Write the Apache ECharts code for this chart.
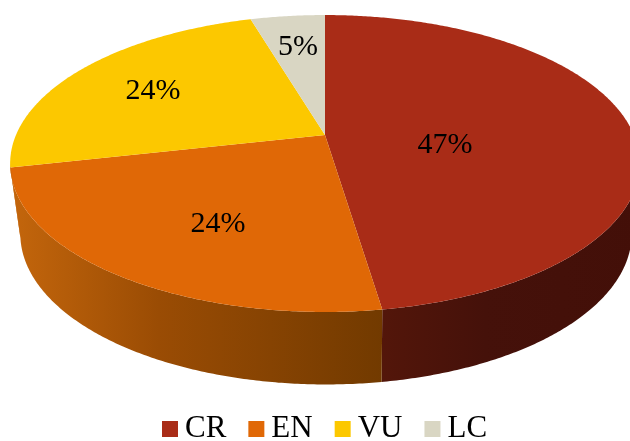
<!DOCTYPE html>
<html>
<head>
<meta charset="utf-8">
<style>
html, body { margin: 0; padding: 0; background: #fff; }
#main { width: 630px; height: 441px; }
</style>
<script src="https://cdn.jsdelivr.net/npm/echarts@6/dist/echarts.min.js"></script>
</head>
<body>
<div id="main"></div>
<script>
// values (the printed labels are rounded differently)
const categories = ["CR", "EN", "VU", "LC"]
const values = [47.6, 23.9, 23.9, 4.6]
const percentLabels = ["47%", "24%", "24%", "5%"]

// colours
const topColors = ["#a92c17", "#e06806", "#fcc800", "#d9d6c3"]
const wallStops = [
	["#53160a", "#45110a", "#430f08"],
	["#c4660c", "#9a4c04", "#723a00"],
	["#c4660c", "#c4660c", "#c4660c"],
	["#8a8778", "#8a8778", "#8a8778"]
]

const fontFamily = '"Liberation Serif", "Times New Roman", serif'
// label centres, Excel places them by its own rules so no formula here
const labelAnchors = [[445, 145], [218, 224], [153, 91], [298, 47]]

// perspective of the disc: p is the foreshortening, the rest is px
const p = 0.192
const topFace = { cx: 325, ay: 135, r: 309, h: 143 }
const bottomFace = { cx: 326, ay: 205, r: 300, h: 145 }
// the side wall is only visible between these angles (deg, 90 = front)
const wallFrom = 11
const wallTo = 169

function project(face, deg, radius) {
	const t = deg * Math.PI / 180
	const w = 1 - p * radius * Math.sin(t)
	return [
		face.cx + face.r * radius * Math.cos(t) / w,
		face.ay + face.h * radius * Math.sin(t) / w
	]
}

function arc(face, from, to) {
	const points = []
	for (let d = from; d < to; d += 0.5) {
		points.push(project(face, d, 1))
	}
	points.push(project(face, to, 1))
	return points
}

const total = values.reduce((a, b) => a + b, 0)
let running = 0
const series = categories.map((name, i) => {
	const start = -90 + 360 * running / total
	running += values[i]
	const end = -90 + 360 * running / total
	return {
		type: "custom",
		name: name,
		coordinateSystem: "none",
		animation: false,
		silent: true,
		itemStyle: { color: topColors[i] },
		data: [[start, end]],
		renderItem(params, api) {
			const from = api.value(0)
			const to = api.value(1)
			const children = []
			const wFrom = Math.max(from, wallFrom)
			const wTo = Math.min(to, wallTo)
			if (wTo > wFrom) {
				const points = arc(topFace, wFrom, wTo).concat(arc(bottomFace, wFrom, wTo).reverse())
				const fill = new echarts.graphic.LinearGradient(0, 0, 1, 0, [
					{ offset: 0, color: wallStops[i][0] },
					{ offset: 0.4, color: wallStops[i][1] },
					{ offset: 1, color: wallStops[i][2] }
				])
				children.push({
					type: "polygon",
					shape: { points: points },
					style: { fill: fill }
				})
			}
			children.push({
				type: "polygon",
				shape: { points: [project(topFace, 0, 0)].concat(arc(topFace, from, to)) },
				style: { fill: topColors[i] }
			})
			children.push({
				type: "text",
				z2: 10,
				style: {
					x: labelAnchors[i][0],
					y: labelAnchors[i][1],
					text: percentLabels[i],
					fill: "#000",
					font: '30px ' + fontFamily,
					align: "center",
					verticalAlign: "middle"
				}
			})
			return { type: "group", children: children }
		}
	}
})

const chart = echarts.init(document.getElementById("main"))
chart.setOption({
	backgroundColor: "#fff",
	animation: false,
	legend: {
		data: categories,
		left: 162,
		top: 413.5,
		padding: 0,
		icon: "rect",
		itemWidth: 16,
		itemHeight: 16,
		itemGap: 22,
		textStyle: {
			color: "#000",
			fontFamily: fontFamily,
			fontSize: 31,
			padding: [0, 0, 0, 2]
		}
	},
	series: series
})
</script>
</body>
</html>
